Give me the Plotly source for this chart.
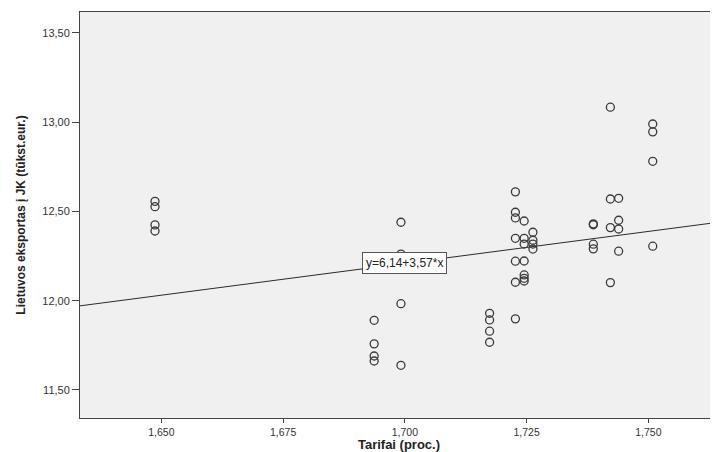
import plotly.graph_objects as go

# ---- data ----
tarifai = [
    1.6487, 1.6487, 1.6487, 1.6487,
    1.6937, 1.6937, 1.6937, 1.6937,
    1.6992, 1.6992, 1.6992, 1.6992,
    1.7174, 1.7174, 1.7174, 1.7174,
    1.7227, 1.7227, 1.7227, 1.7227, 1.7227, 1.7227, 1.7227,
    1.7245, 1.7245, 1.7245, 1.7245, 1.7245, 1.7245, 1.7245,
    1.7263, 1.7263, 1.7263, 1.7263,
    1.7387, 1.7387, 1.7387, 1.7387,
    1.7422, 1.7422, 1.7422, 1.7422,
    1.7439, 1.7439, 1.7439, 1.7439,
    1.7509, 1.7509, 1.7509, 1.7509,
]
eksportas = [
    12.556, 12.526, 12.424, 12.390,
    11.890, 11.758, 11.690, 11.662,
    12.439, 12.261, 11.983, 11.638,
    11.929, 11.892, 11.829, 11.767,
    12.609, 12.495, 12.463, 12.349, 12.221, 12.103, 11.898,
    12.446, 12.349, 12.317, 12.222, 12.144, 12.125, 12.110,
    12.383, 12.338, 12.317, 12.289,
    12.430, 12.425, 12.316, 12.290,
    13.083, 12.569, 12.409, 12.101,
    12.573, 12.450, 12.401, 12.277,
    12.989, 12.945, 12.780, 12.305,
]
intercept = 6.14
slope = 3.57
equation_label = "y=6,14+3,57*x"
label_x = 1.700

x_range = [1.6333, 1.7643]
y_range = [11.343, 13.616]

fit_x = list(x_range)
fit_y = [intercept + slope * v for v in fit_x]

FONT = "Liberation Sans, Arial, sans-serif"

fig = go.Figure()
fig.add_trace(go.Scatter(
    x=fit_x, y=fit_y, mode="lines",
    line=dict(color="#2a2a2a", width=1),
    hoverinfo="skip", showlegend=False,
))
fig.add_trace(go.Scatter(
    x=tarifai, y=eksportas, mode="markers",
    marker=dict(symbol="circle-open", size=8, color="#3a3a3a",
                line=dict(width=1.3, color="#3a3a3a")),
    showlegend=False,
))

fig.add_annotation(
    x=label_x, y=intercept + slope * label_x, xref="x", yref="y",
    text=equation_label, showarrow=False,
    font=dict(family=FONT, size=12, color="#222222"),
    bgcolor="white", bordercolor="#555555", borderwidth=1, borderpad=3,
)

# the page body adds an 8px offset, so the figure is 710x444 to fill the window
fig.update_layout(
    width=710, height=444,
    margin=dict(l=72, r=0, t=4, b=34),
    paper_bgcolor="white", plot_bgcolor="#f0f0f0",
    separators=",.",
    font=dict(family=FONT, color="#333333"),
    showlegend=False,
)
fig.update_xaxes(
    range=x_range, tick0=1.65, dtick=0.025, tickformat=".3f",
    showgrid=False, zeroline=False,
    showline=True, linecolor="#444444", linewidth=1, mirror=True,
    ticks="outside", ticklen=4, tickcolor="#444444",
    tickfont=dict(family=FONT, size=10.5, color="#333333"),
    title=dict(text="<b>Tarifai (proc.)</b>", standoff=0,
               font=dict(family=FONT, size=13, color="#222222")),
)
fig.update_yaxes(
    range=y_range, tick0=11.5, dtick=0.5, tickformat=".2f",
    showgrid=False, zeroline=False,
    showline=True, linecolor="#444444", linewidth=1, mirror=False,
    ticks="outside", ticklen=7, tickcolor="#444444",
    tickfont=dict(family=FONT, size=11, color="#333333"),
    title=dict(text="<b>Lietuvos eksportas į JK (tūkst.eur.)</b>", standoff=14,
               font=dict(family=FONT, size=12, color="#222222")),
)

fig.write_html("out.html")
